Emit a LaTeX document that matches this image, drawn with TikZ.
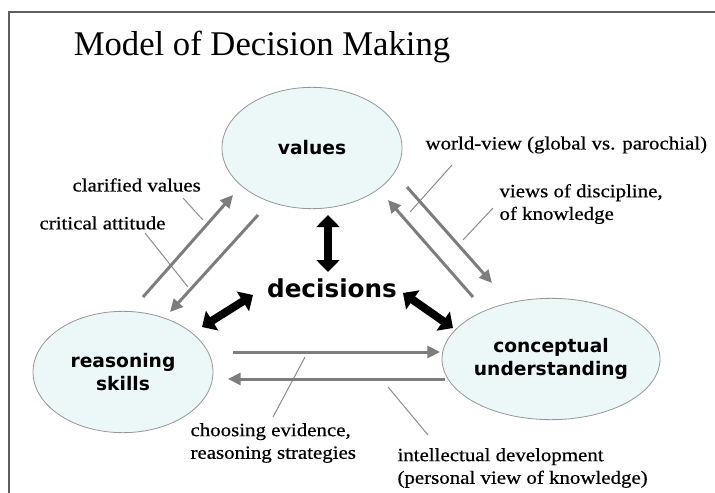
\documentclass[tikz,border=0pt]{standalone}
\usepackage{fontspec}
\setmainfont{Liberation Serif}
\setsansfont{DejaVu Sans}
\newfontfamily\lblfont[FakeStretch=1.12,FakeBold=0.6]{Liberation Serif}
\usetikzlibrary{arrows.meta,shapes.geometric}

\definecolor{ovalfill}{RGB}{236,247,247}
\definecolor{ovalline}{RGB}{150,150,150}
\definecolor{flowgray}{RGB}{125,125,125}
\definecolor{leadgray}{RGB}{140,140,140}
\definecolor{framegray}{RGB}{95,95,95}

\tikzset{every picture/.style={line width=0.75pt}}
\tikzset{
  topic/.style={ellipse, draw=ovalline, fill=ovalfill, line width=0.6pt,
    minimum width=135pt, minimum height=91pt, inner sep=0pt, align=center,
    font=\sffamily\bfseries\fontsize{14}{17}\selectfont},
  remark/.style={anchor=west, align=left, inner sep=0pt, text=black,
    font=\lblfont\fontsize{14}{17}\selectfont},
  flow/.style={draw=flowgray, line width=2.25pt, -{Triangle[length=9.5pt,width=9pt]}},
  twoway/.style={draw=black, line width=6pt,
    {Triangle[length=9pt,width=17pt]}-{Triangle[length=9pt,width=17pt]}},
  leader/.style={draw=leadgray, line width=0.75pt},
}

\begin{document}
\begin{tikzpicture}[x=0.75pt,y=0.75pt,yscale=-1,xscale=1]
\useasboundingbox (0,0) rectangle (715,493);
%Frame
\draw[framegray, line width=1.1pt] (9,493) -- (9,12) -- (715,12);

% Title
\node (title) at (262,47) {\fontsize{26}{30}\selectfont Model of Decision Making};

%Shape: Ellipse
\node[topic] (val) at (312,148) {values};
%Shape: Ellipse
\node[topic] (rsn) at (123,372) {reasoning\\skills};
%Shape: Ellipse
\node[topic] (cpt) at (551,359) {conceptual\\understanding};

% Text Node
\node[font=\sffamily\bfseries\fontsize{18.5}{22}\selectfont] (dec) at (332,288) {decisions};

% Text Node
\node[remark] (clar) at (72,185) {clarified values};
\node[remark] (crit) at (39,223) {critical attitude};
\node[remark] (world) at (425,145) {world-view (global vs. parochial)};
\node[remark] (disc) at (499,204) {views of discipline,\\of knowledge};
\node[remark] (evid) at (190,443) {choosing evidence,\\reasoning strategies};
\node[remark] (intel) at (397,468) {intellectual development\\(personal view of knowledge)};

%Straight Lines (leaders)
\coordinate (clarA) at (183,198); \coordinate (clarB) at (203,220);
\coordinate (critA) at (145,233); \coordinate (critB) at (188,287);
\coordinate (worldA) at (452,165); \coordinate (worldB) at (410,212);
\coordinate (discA) at (493,208); \coordinate (discB) at (463,240);
\coordinate (evidA) at (273,417); \coordinate (evidB) at (305,357);
\coordinate (intelA) at (428,435); \coordinate (intelB) at (388,387);
\draw[leader] (clarA) -- (clarB);
\draw[leader] (critA) -- (critB);
\draw[leader] (worldA) -- (worldB);
\draw[leader] (discA) -- (discB);
\draw[leader] (evidA) -- (evidB);
\draw[leader] (intelA) -- (intelB);

%Straight Lines (gray arrows)
\coordinate (rvA) at (143,297); \coordinate (rvB) at (233,195);
\coordinate (vrA) at (258,215); \coordinate (vrB) at (170,312);
\coordinate (vcA) at (407,187); \coordinate (vcB) at (492,283);
\coordinate (cvA) at (473,297); \coordinate (cvB) at (388,200);
\coordinate (rcA) at (233,352); \coordinate (rcB) at (440,352);
\coordinate (crA) at (445,379); \coordinate (crB) at (228,379);
\draw[flow] (rvA) -- (rvB);
\draw[flow] (vrA) -- (vrB);
\draw[flow] (vcA) -- (vcB);
\draw[flow] (cvA) -- (cvB);
\draw[flow] (rcA) -- (rcB);
\draw[flow] (crA) -- (crB);

%Straight Lines (black double arrows)
\coordinate (dvA) at (328,215); \coordinate (dvB) at (328,272);
\coordinate (drA) at (253,295); \coordinate (drB) at (202,327);
\coordinate (dcA) at (403,293); \coordinate (dcB) at (453,328);
\draw[twoway] (dvA) -- (dvB);
\draw[twoway] (drA) -- (drB);
\draw[twoway] (dcA) -- (dcB);

\end{tikzpicture}
\end{document}
